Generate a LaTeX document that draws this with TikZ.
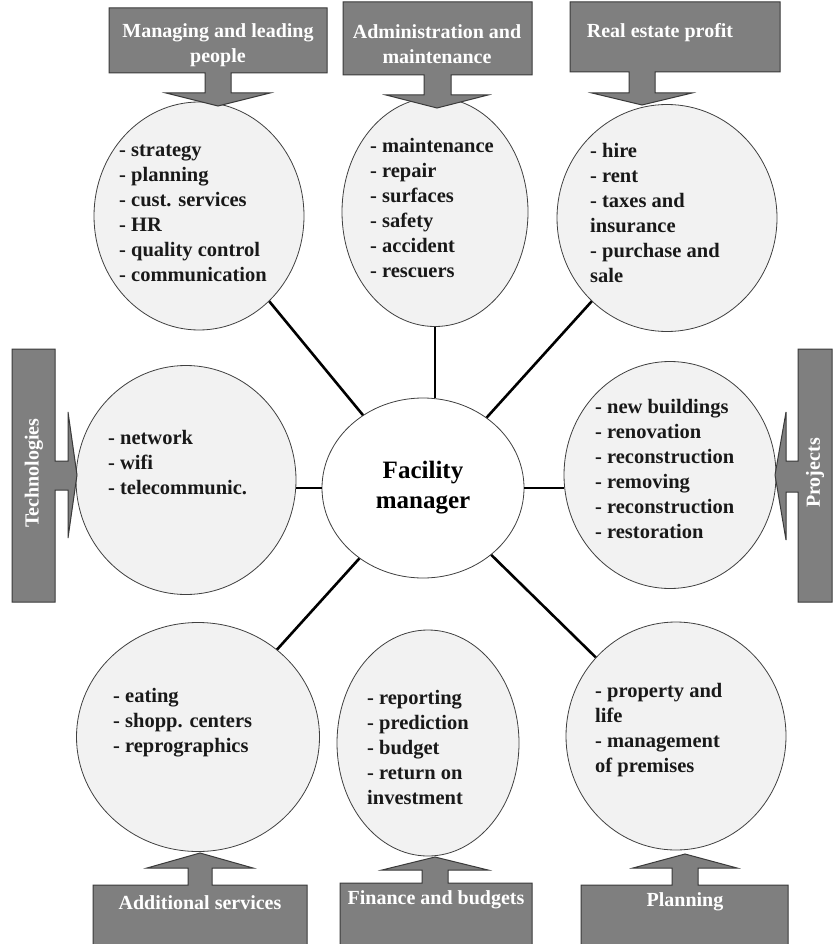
\documentclass[tikz,border=0pt]{standalone}
\usepackage{fontspec}
\setmainfont{Liberation Serif}
\usetikzlibrary{shapes.geometric}

\definecolor{bubblefill}{HTML}{F2F2F2}
\definecolor{bubbleline}{HTML}{404040}
\definecolor{calloutfill}{HTML}{7F7F7F}
\definecolor{calloutline}{HTML}{3A3A3A}

\tikzset{
    bubble/.style={ellipse, draw=bubbleline, fill=bubblefill, line width=0.8pt, inner sep=0pt},
    link/.style={line width=2.6pt, black},
    callout/.style={draw=calloutline, fill=calloutfill, line width=1pt},
    calloutlabel/.style={text=white, font=\bfseries\fontsize{20}{25}\selectfont, align=center, inner sep=0pt},
    items/.style={font=\bfseries\fontsize{20.5}{25}\selectfont, align=left, anchor=base west, inner sep=0pt, text=black!90}
}

\begin{document}
\begin{tikzpicture}[x=1pt,y=-1pt]
            \useasboundingbox (0,0) rectangle (833,944);

            % satellites
            \node[bubble, minimum width=210pt, minimum height=228pt] (tl) at (199,216) {};
            \node[bubble, minimum width=186pt, minimum height=229pt] (tm) at (435,212) {};
            \node[bubble, minimum width=220pt, minimum height=227pt] (tr) at (667,218) {};
            \node[bubble, minimum width=220pt, minimum height=229pt] (ml) at (186,480) {};
            \node[bubble, minimum width=212pt, minimum height=227pt] (mr) at (670,475) {};
            \node[bubble, minimum width=243pt, minimum height=229pt] (bl) at (198,737) {};
            \node[bubble, minimum width=182pt, minimum height=226pt] (bm) at (428,743) {};
            \node[bubble, minimum width=220pt, minimum height=228pt] (br) at (676,736) {};

            % centre
            \node[bubble, fill=white, minimum width=202pt, minimum height=180pt, align=center,
                font=\bfseries\fontsize{25}{30}\selectfont] (fm) at (423,488) {Facility\\manager};

            \draw[link] (fm) -- (tl);
            \draw[link] (tm.south) -- (tm.south |- fm.north);
            \draw[link] (fm) -- (tr);
            \draw[link] (fm.west) -- (fm.west -| ml.east);
            \draw[link] (fm.east) -- (fm.east -| mr.west);
            \draw[link] (fm) -- (bl);
            \draw[link] (fm) -- (br);

            % lists (placed by the baseline of their last line)
            \node[items] (tl-list) at (119,281) {- strategy\\- planning\\- cust. services\\- HR\\- quality control\\- communication};
            \node[items] (tm-list) at (370,277) {- maintenance\\- repair\\- surfaces\\- safety\\- accident\\- rescuers};
            \node[items] (tr-list) at (590,282) {- hire\\- rent\\- taxes and\\insurance\\- purchase and\\sale};
            \node[items] (ml-list) at (108,494) {- network\\- wifi\\- telecommunic.};
            \node[items] (mr-list) at (595,538) {- new buildings\\- renovation\\- reconstruction\\- removing\\- reconstruction\\- restoration};
            \node[items] (bl-list) at (113,752) {- eating\\- shopp. centers\\- reprographics};
            \node[items] (bm-list) at (367,804) {- reporting\\- prediction\\- budget\\- return on\\investment};
            \node[items] (br-list) at (595,772) {- property and\\life\\- management\\of premises};

            % callouts on top
            \draw[callout] (109,8) -- (327,8) -- (327,73) -- (231,73) -- (231,93) -- (270,93) -- (218,106)
                -- (166,93) -- (205,93) -- (205,73) -- (109,73) -- cycle;
            \draw[callout] (343,2) -- (532,2) -- (532,75) -- (451,75) -- (451,95) -- (488,95) -- (437,108)
                -- (386,95) -- (424,95) -- (424,75) -- (343,75) -- cycle;
            \draw[callout] (570,2) -- (780,2) -- (780,72) -- (655,72) -- (655,93) -- (692,93) -- (642,105)
                -- (592,93) -- (629,93) -- (629,72) -- (570,72) -- cycle;
            \node[calloutlabel] (people) at (218,45) {Managing and leading\\people};
            \node[calloutlabel] (admin) at (437,44) {Administration and\\maintenance};
            \node[calloutlabel] (estate) at (660,33) {Real estate profit};

            % callouts at the sides
            \draw[callout] (12,349) -- (55,349) -- (55,461) -- (68,461) -- (68,412) -- (77,475)
                -- (68,538) -- (68,490) -- (55,490) -- (55,602) -- (12,602) -- cycle;
            \draw[callout] (832,349) -- (798,349) -- (798,461) -- (786,461) -- (786,412) -- (775,475)
                -- (786,540) -- (786,492) -- (798,492) -- (798,602) -- (832,602) -- cycle;
            \node[calloutlabel, rotate=90] (tech) at (34,473) {Technologies};
            \node[calloutlabel, rotate=90] (projects) at (815,473) {Projects};

            % callouts at the bottom
            \draw[callout] (93,947) -- (93,885) -- (188,885) -- (188,868) -- (147,868) -- (200,853)
                -- (253,868) -- (212,868) -- (212,885) -- (307,885) -- (307,947);
            \draw[callout] (340,947) -- (340,883) -- (422,883) -- (422,870) -- (382,870) -- (435,857)
                -- (488,870) -- (448,870) -- (448,883) -- (532,883) -- (532,947);
            \draw[callout] (581,947) -- (581,885) -- (672,885) -- (672,868) -- (633,868) -- (685,854)
                -- (737,868) -- (698,868) -- (698,885) -- (788,885) -- (788,947);
            \node[calloutlabel] (extra) at (200,903) {Additional services};
            \node[calloutlabel] (finance) at (436,900) {Finance and budgets};
            \node[calloutlabel] (planning) at (685,902) {Planning};
\end{tikzpicture}
\end{document}
